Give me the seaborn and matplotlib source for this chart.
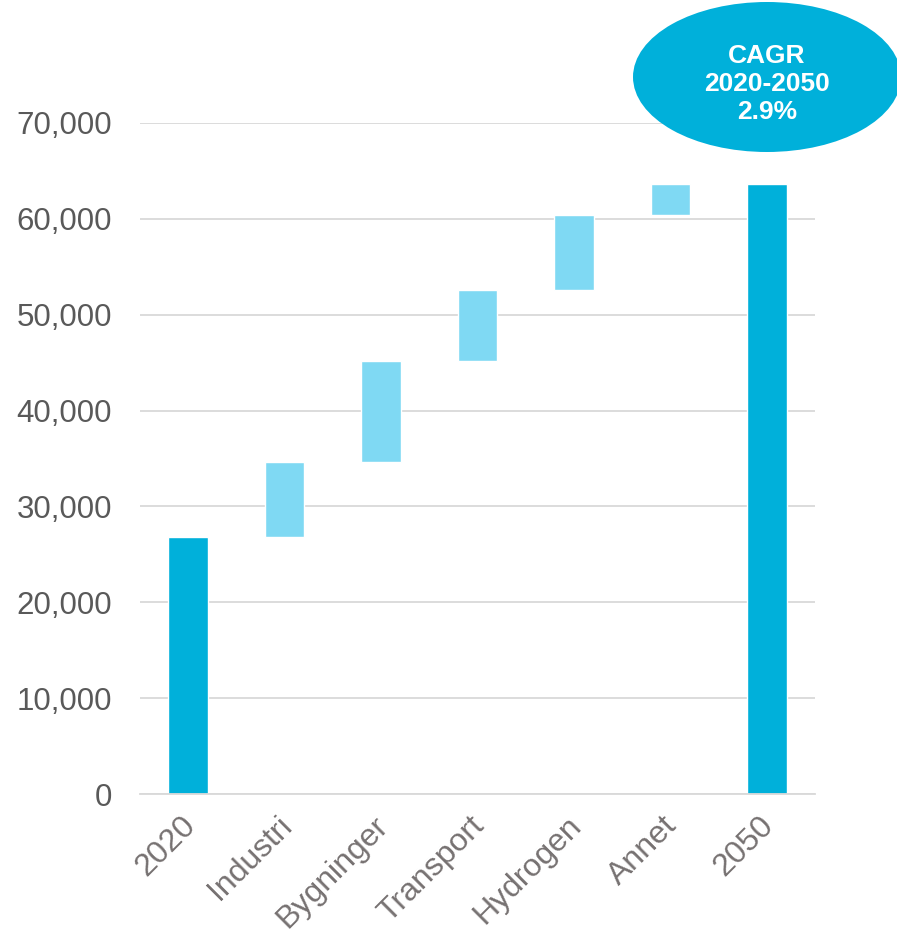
import numpy as np
import pandas as pd
import matplotlib
matplotlib.use('Agg')
import matplotlib.pyplot as plt
import matplotlib.transforms as mtransforms
from matplotlib.patches import Ellipse
import seaborn as sns

# Data
categories = ['2020', 'Industri', 'Bygninger', 'Transport', 'Hydrogen', 'Annet', '2050']
total_labels = ['2020', '2050']
total_values = [26800, 63600]
step_labels = ['Industri', 'Bygninger', 'Transport', 'Hydrogen', 'Annet']
step_values = [7800, 10600, 7400, 7800, 3200]
yticks = [0, 10000, 20000, 30000, 40000, 50000, 60000, 70000]
cagr_text = 'CAGR\n2020-2050\n2.9%'

dark_blue = '#00B0DA'
light_blue = '#7FD9F3'

# base of each step bar = running total
step_bottoms = total_values[0] + np.concatenate([[0], np.cumsum(step_values)[:-1]])

totals_df = pd.DataFrame({'cat': total_labels, 'value': total_values})
steps_df = pd.DataFrame({'cat': step_labels, 'value': step_values})

sns.set_style('white')
plt.rcParams['font.family'] = ['Liberation Sans', 'DejaVu Sans']

fig = plt.figure(figsize=(8.97, 9.33), dpi=100)
ax = fig.add_axes([140 / 897, 139 / 933, 675 / 897, 671 / 933])

sns.barplot(data=totals_df, x='cat', y='value', order=categories, color=dark_blue,
            saturation=1, width=0.41, ax=ax)
sns.barplot(data=steps_df, x='cat', y='value', order=categories, color=light_blue,
            saturation=1, width=0.41, bottom=step_bottoms, ax=ax)

ax.set_xlim(-0.5, 6.5)
ax.set_ylim(0, 70000)
ax.set_yticks(yticks)
ax.set_yticklabels([f'{v:,}' for v in yticks])
ax.grid(axis='y', color='#D9D9D9', linewidth=1.3)
ax.set_axisbelow(True)
for s in ['top', 'right', 'left']:
    ax.spines[s].set_visible(False)
ax.spines['bottom'].set_color('#D9D9D9')
ax.spines['bottom'].set_linewidth(1.3)
ax.set_xlabel('')
ax.set_ylabel('')
ax.tick_params(axis='y', length=0, pad=20, labelsize=22.5, labelcolor='#595959')
ax.tick_params(axis='x', length=0, pad=12, labelsize=23, labelcolor='#767171')
shift = mtransforms.ScaledTranslation(-8 / 100, 0, fig.dpi_scale_trans)
for lab in ax.get_xticklabels():
    lab.set_rotation(45)
    lab.set_ha('right')
    lab.set_rotation_mode('anchor')
    lab.set_transform(lab.get_transform() + shift)

# CAGR bubble
ell = Ellipse((767 / 897, 1 - 77 / 933), 268 / 897, 150 / 933, transform=fig.transFigure,
              facecolor=dark_blue, edgecolor='none', clip_on=False, zorder=5)
fig.patches.append(ell)
fig.text(767 / 897, 1 - 84 / 933, cagr_text, ha='center', va='center', color='white',
         fontsize=19, fontweight='bold', linespacing=1.2, zorder=6)

fig.savefig('out.png', dpi=100)
